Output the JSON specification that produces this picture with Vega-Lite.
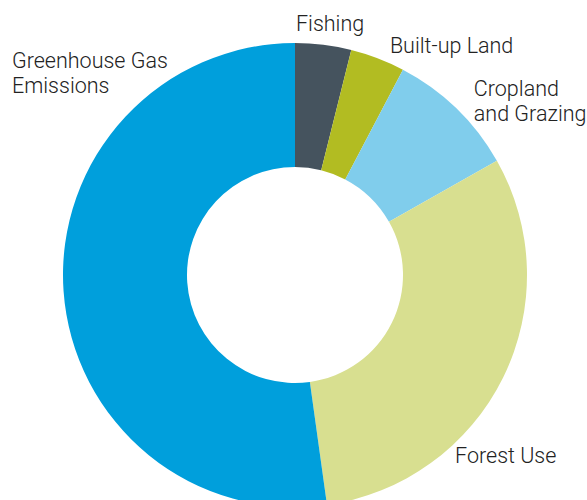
{
  "$schema": "https://vega.github.io/schema/vega-lite/v6.json",
  "autosize": "none",
  "width": 584,
  "height": 450,
  "padding": {"left": 3, "top": 50, "right": 0, "bottom": 0},
  "background": "white",
  "view": {"stroke": null},
  "data": {
    "values": [
      {"category": "Fishing", "share": 3.9, "idx": 1},
      {"category": "Built-up Land", "share": 3.8, "idx": 2},
      {"category": "Cropland and Grazing", "share": 9.1, "idx": 3},
      {"category": "Forest Use", "share": 31.0, "idx": 4},
      {"category": "Greenhouse Gas Emissions", "share": 52.2, "idx": 5}
    ]
  },
  "layer": [
    {
      "mark": {"type": "arc", "outerRadius": 232, "innerRadius": 108},
      "encoding": {
        "theta": {"field": "share", "type": "quantitative", "stack": true},
        "order": {"field": "idx", "type": "quantitative"},
        "color": {
          "field": "category",
          "type": "nominal",
          "scale": {
            "domain": ["Fishing", "Built-up Land", "Cropland and Grazing", "Forest Use", "Greenhouse Gas Emissions"],
            "range": ["#45535e", "#b2bc22", "#80cdec", "#d8df90", "#009fdc"]
          },
          "legend": null
        }
      }
    },
    {
      "transform": [{"filter": "datum.category === 'Fishing'"}],
      "mark": {"type": "text", "align": "left", "baseline": "alphabetic", "theta": 0.004, "radius": 244, "font": "Roboto", "fontWeight": 300, "fontSize": 21.5, "color": "#222222"},
      "encoding": {"text": {"field": "category"}}
    },
    {
      "transform": [{"filter": "datum.category === 'Built-up Land'"}],
      "mark": {"type": "text", "align": "left", "baseline": "alphabetic", "theta": 0.404, "radius": 241.5, "font": "Roboto", "fontWeight": 300, "fontSize": 21.5, "color": "#222222"},
      "encoding": {"text": {"field": "category"}}
    },
    {
      "transform": [{"filter": "datum.category === 'Cropland and Grazing'"}],
      "mark": {"type": "text", "align": "left", "baseline": "alphabetic", "theta": 0.785, "radius": 253, "font": "Roboto", "fontWeight": 300, "fontSize": 21.5, "lineHeight": 25, "color": "#222222"},
      "encoding": {"text": {"value": ["Cropland", "and Grazing"]}}
    },
    {
      "transform": [{"filter": "datum.category === 'Forest Use'"}],
      "mark": {"type": "text", "align": "left", "baseline": "alphabetic", "theta": 2.4366, "radius": 247, "font": "Roboto", "fontWeight": 300, "fontSize": 21.5, "color": "#222222"},
      "encoding": {"text": {"field": "category"}}
    },
    {
      "transform": [{"filter": "datum.category === 'Greenhouse Gas Emissions'"}],
      "mark": {"type": "text", "align": "left", "baseline": "alphabetic", "theta": 5.343, "radius": 350.4, "font": "Roboto", "fontWeight": 300, "fontSize": 21.5, "lineHeight": 25, "color": "#222222"},
      "encoding": {"text": {"value": ["Greenhouse Gas", "Emissions"]}}
    }
  ]
}
